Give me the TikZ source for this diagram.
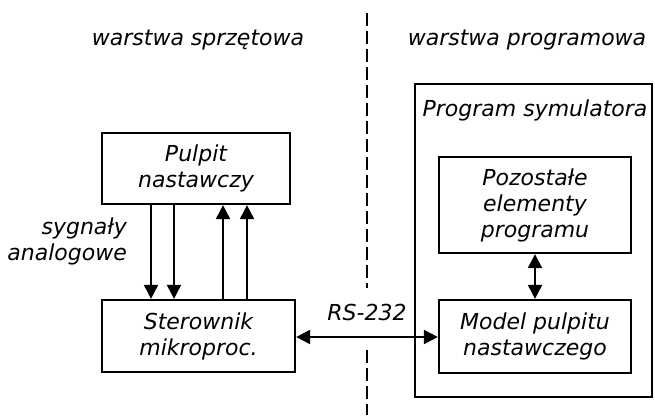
\documentclass[tikz,border=0pt]{standalone}
\usepackage{fontspec}
\setmainfont{DejaVu Sans}
\usepackage{tikz}
\usetikzlibrary{positioning,arrows.meta}

\begin{document}
\begin{tikzpicture}[
    x=1pt, y=-1pt,
    >={Triangle[length=14pt,width=14pt]},
    font=\fontsize{22}{26}\selectfont\itshape,
    box/.style={draw=black, line width=2.3pt, align=center, inner sep=0pt},
    wire/.style={line width=2.3pt},
    lbl/.style={align=center, inner sep=0pt},
  ]
    \useasboundingbox (0,0) rectangle (655,415);

    % layer captions and divider
    \node[lbl] (hw) at (198,40) {warstwa sprzętowa};
    \node[lbl] (sw) at (527,40) {warstwa programowa};
    \coordinate (divtop) at (367,13);
    \coordinate (diva) at (367,288);
    \coordinate (divb) at (367,350);
    \coordinate (divbot) at (367,415);
    \draw[wire, dash pattern=on 13pt off 5pt] (divtop) -- (diva);
    \draw[wire, dash pattern=on 13pt off 5pt] (divb) -- (divbot);

    % hardware side
    \node[box, minimum width=188pt, minimum height=71pt] (pulpit) at (196,168.5) {Pulpit\\nastawczy};
    \node[box, minimum width=193pt, minimum height=72pt] (sterownik) at (198.5,336) {Sterownik\\mikroproc.};
    \node[lbl, align=right, anchor=east] (sygn) at (127,241) {sygnały\\analogowe};

    \foreach \x in {151,174} \draw[wire,->] (pulpit.south -| \x,0) -- (sterownik.north -| \x,0);
    \foreach \x in {223,247} \draw[wire,->] (sterownik.north -| \x,0) -- (pulpit.south -| \x,0);

    % software side
    \node[box, minimum width=237pt, minimum height=313pt] (sym) at (533.5,240.5) {};
    \node[lbl] (symtxt) at (535,110) {Program symulatora};
    \node[box, minimum width=192pt, minimum height=96pt] (reszta) at (535,205) {Pozostałe\\elementy\\programu};
    \node[box, minimum width=192pt, minimum height=73pt] (model) at (535,336.5) {Model pulpitu\\nastawczego};

    \draw[wire,<->] (reszta) -- (model);
    \draw[wire,<->] (sterownik.east |- 0,337) -- node[lbl, above=15pt] (rs) {RS-232} (model.west |- 0,337);
  \end{tikzpicture}
\end{document}
